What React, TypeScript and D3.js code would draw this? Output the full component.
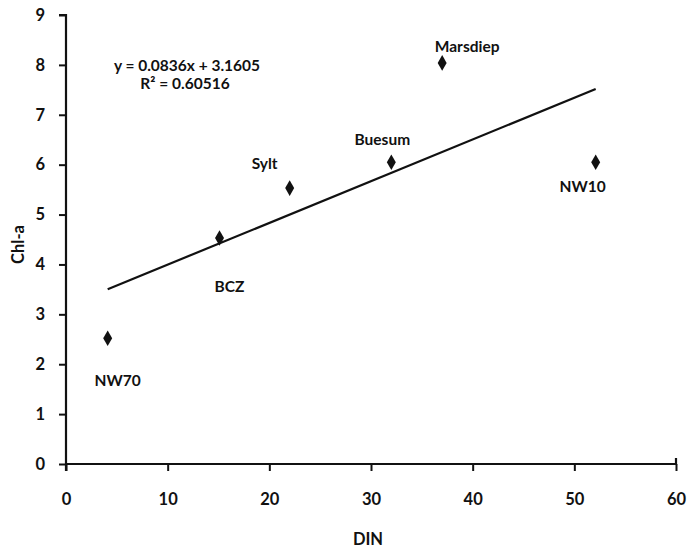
import * as d3 from "d3";
import { useEffect, useRef } from "react";

const stations = ["NW70", "BCZ", "Sylt", "Buesum", "Marsdiep", "NW10"];
const dinValues = [4.1, 15.1, 22.0, 32.0, 37.0, 52.1];
const chlValues = [2.52, 4.53, 5.53, 6.05, 8.04, 6.05];
const xTicks = [0, 10, 20, 30, 40, 50, 60];
const yTicks = [0, 1, 2, 3, 4, 5, 6, 7, 8, 9];
const slope = 0.0836;
const intercept = 3.1605;
// label offsets from each point (px)
const labelOffsets: [number, number][] = [
  [10, 48],
  [10, 54],
  [-25, -19],
  [-9, -17],
  [25, -11],
  [-13, 30],
];

const W = 689;
const H = 554;
const FONT = "Lato, 'Open Sans', sans-serif";

export default function App() {
  const svgRef = useRef<SVGSVGElement | null>(null);

  useEffect(() => {
    if (!svgRef.current) return;
    const svg = d3.select(svgRef.current);
    svg.selectAll("*").remove();

    const margin = { top: 15, right: 13, bottom: 90, left: 66 };
    const gw = W - margin.left - margin.right;
    const gh = H - margin.top - margin.bottom;

    const x = d3.scaleLinear().domain([0, 60]).range([0, gw]);
    const y = d3.scaleLinear().domain([0, 9]).range([gh, 0]);

    const g = svg
      .append("g")
      .attr("transform", `translate(${margin.left}, ${margin.top})`);

    // X axis
    const xAxis = g
      .append("g")
      .attr("transform", `translate(0, ${gh})`)
      .call(d3.axisBottom(x).tickValues(xTicks).tickSize(7).tickSizeOuter(7).tickPadding(22));
    xAxis.select(".domain").attr("stroke", "#111").attr("stroke-width", 2.2).attr("d", `M0,0H${gw}V-6`);
    xAxis.selectAll(".tick line").attr("stroke", "#111").attr("stroke-width", 2);
    xAxis
      .selectAll(".tick text")
      .attr("font-family", FONT)
      .attr("font-weight", "bold")
      .attr("font-size", 16.5)
      .attr("fill", "#111");

    // Y axis
    const yAxis = g
      .append("g")
      .call(d3.axisLeft(y).tickValues(yTicks).tickSize(7).tickSizeOuter(7).tickPadding(14));
    yAxis.select(".domain").attr("stroke", "#111").attr("stroke-width", 2.2).attr("d", `M-7,0H0V${gh + 7}`);
    yAxis.selectAll(".tick line").attr("stroke", "#111").attr("stroke-width", 2);
    yAxis
      .selectAll(".tick text")
      .attr("font-family", FONT)
      .attr("font-weight", "bold")
      .attr("font-size", 16.5)
      .attr("fill", "#111");

    // Trendline
    const xMin = d3.min(dinValues)!;
    const xMax = d3.max(dinValues)!;
    const trend = [xMin, xMax].map((v) => ({ x: v, y: slope * v + intercept }));
    g.append("path")
      .datum(trend)
      .attr("fill", "none")
      .attr("stroke", "#111")
      .attr("stroke-width", 2.2)
      .attr(
        "d",
        d3
          .line<{ x: number; y: number }>()
          .x((d) => x(d.x))
          .y((d) => y(d.y))
      );

    const data = stations.map((name, i) => ({
      name,
      din: dinValues[i],
      chl: chlValues[i],
      off: labelOffsets[i],
    }));

    // Points
    g.selectAll(".pt")
      .data(data)
      .join("path")
      .attr("class", "pt")
      .attr("transform", (d) => `translate(${x(d.din)}, ${y(d.chl)})`)
      .attr("d", d3.symbol().type(d3.symbolDiamond).size(70)())
      .attr("fill", "#111");

    // Point labels
    g.selectAll(".lbl")
      .data(data)
      .join("text")
      .attr("class", "lbl")
      .attr("x", (d) => x(d.din) + d.off[0])
      .attr("y", (d) => y(d.chl) + d.off[1])
      .attr("text-anchor", "middle")
      .attr("font-family", FONT)
      .attr("font-weight", "bold")
      .attr("font-size", 15.5)
      .attr("fill", "#111")
      .text((d) => d.name);

    // Equation
    const eq = g
      .append("text")
      .attr("text-anchor", "middle")
      .attr("font-family", FONT)
      .attr("font-weight", "bold")
      .attr("font-size", 15.5)
      .attr("fill", "#111");
    eq.append("tspan").attr("x", 121).attr("y", 56).text(`y = ${slope}x + ${intercept}`);
    eq.append("tspan").attr("x", 119).attr("y", 74).text("R² = 0.60516");

    // Axis titles
    svg
      .append("text")
      .attr("x", margin.left + x(30) - 3)
      .attr("y", 545)
      .attr("text-anchor", "middle")
      .attr("font-family", FONT)
      .attr("font-weight", "bold")
      .attr("font-size", 16.5)
      .attr("fill", "#111")
      .text("DIN");

    svg
      .append("text")
      .attr("transform", `translate(24, ${margin.top + y(4.4)}) rotate(-90)`)
      .attr("text-anchor", "middle")
      .attr("font-family", FONT)
      .attr("font-weight", "bold")
      .attr("font-size", 16.5)
      .attr("fill", "#111")
      .text("Chl-a");
  }, []);

  return (
    <div style={{ position: "absolute", left: 0, top: 0 }}>
      <svg ref={svgRef} width={W} height={H} style={{ display: "block", background: "#fff" }}></svg>
    </div>
  );
}
